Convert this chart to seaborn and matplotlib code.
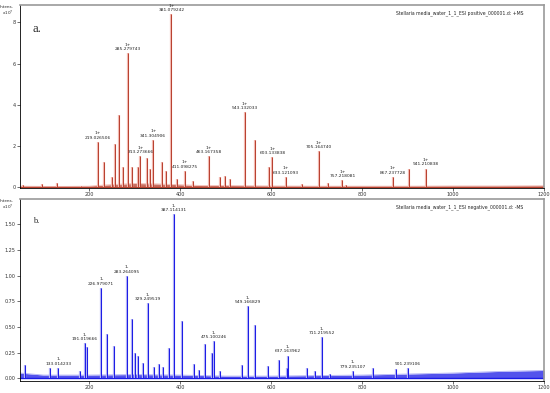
import matplotlib
matplotlib.use('Agg')
import matplotlib.pyplot as plt
import seaborn as sns
import pandas as pd

# --- a. положительный режим (x10^7) ---
pos_mz = [55, 97, 130, 182, 219.03, 233, 250, 257, 266, 275, 285.28, 294, 308, 313.27,
          327, 334, 341.30, 360, 369, 381.08, 393, 411.10, 428, 463.17, 488, 499, 510,
          543.13, 565, 596, 603.13, 633.12, 668, 705.16, 725, 757.22, 765, 867.24, 903, 941.21]
pos_int = [0.10, 0.15, 0.20, 0.05, 2.2, 1.2, 0.5, 2.1, 3.5, 1.0, 6.5, 1.0, 1.0, 1.5,
           1.4, 0.9, 2.3, 1.2, 0.8, 8.4, 0.4, 0.8, 0.3, 1.5, 0.5, 0.55, 0.4,
           3.65, 2.3, 1.0, 1.45, 0.5, 0.15, 1.75, 0.2, 0.35, 0.1, 0.5, 0.9, 0.9]
pos_labels = {219.03: '219.026506', 285.28: '285.279743', 381.08: '381.079242',
              313.27: '313.273666', 341.30: '341.304906', 411.10: '411.098275',
              463.17: '463.167358', 543.13: '543.132033', 603.13: '603.133838',
              633.12: '633.121093', 705.16: '705.164740', 757.22: '757.218081',
              867.24: '867.237728', 941.21: '941.210838'}
pos_noise_mz = [48, 100, 150, 200, 230, 260, 300, 350, 400, 450, 500, 550, 600, 700,
                800, 900, 1000, 1100, 1200]
pos_noise = [0.05, 0.04, 0.04, 0.05, 0.10, 0.14, 0.18, 0.16, 0.12, 0.08, 0.08, 0.07, 0.06,
             0.05, 0.05, 0.05, 0.06, 0.06, 0.07]

# --- b. отрицательный режим ---
neg_mz = [59, 114, 133.01, 180, 191.02, 196, 226.98, 240, 255, 283.26, 294, 301, 308,
          318, 329.25, 343, 353, 363, 376, 387.11, 404, 431, 442, 455, 470, 475.10,
          488, 536, 549.17, 565, 593, 618, 635, 637.16, 679, 697, 711.22, 730,
          779.24, 824, 874, 901.24]
neg_int = [0.13, 0.10, 0.10, 0.07, 0.34, 0.30, 0.88, 0.43, 0.31, 1.0, 0.58, 0.25, 0.22,
           0.15, 0.73, 0.11, 0.14, 0.11, 0.29, 1.60, 0.56, 0.14, 0.08, 0.33, 0.25, 0.36,
           0.07, 0.13, 0.70, 0.52, 0.12, 0.18, 0.10, 0.22, 0.10, 0.07, 0.40, 0.04,
           0.07, 0.10, 0.09, 0.10]
neg_labels = {133.01: '133.014233', 191.02: '191.019666', 226.98: '226.979071',
              283.26: '283.264095', 329.25: '329.249519', 387.11: '387.114131',
              475.10: '475.100246', 549.17: '549.166829', 637.16: '637.163962',
              711.22: '711.219552', 779.24: '779.235107', 901.24: '901.239106'}
neg_charge = {901.24: ''}
neg_noise_mz = [48, 100, 200, 300, 400, 500, 600, 700, 800, 900, 1000, 1100, 1200]
neg_noise = [0.05, 0.03, 0.03, 0.035, 0.03, 0.02, 0.02, 0.025, 0.03, 0.04, 0.05, 0.065, 0.075]

x_ticks = [200, 400, 600, 800, 1000, 1200]

sns.set_theme(style='ticks')
plt.rcParams['font.family'] = ['DejaVu Sans']

fig = plt.figure(figsize=(5.5, 3.93), dpi=100)
ax1 = fig.add_axes([0.036, 0.521, 0.953, 0.466])
ax2 = fig.add_axes([0.036, 0.030, 0.953, 0.464])

letter_size = {'a.': 9, 'b.': 6}


def draw_panel(ax, mz, inten, labels, noise_mz, noise, color, light, charge, ylim, yticks,
               yfmt, letter, title, charges_override=None):
    df = pd.DataFrame({'mz': mz, 'int': inten})
    nf = pd.DataFrame({'mz': noise_mz, 'lvl': noise})
    ax.fill_between(nf['mz'], 0, nf['lvl'], color=color, alpha=0.75, lw=0)
    sns.lineplot(data=nf, x='mz', y='lvl', ax=ax, color=light, lw=0.6)
    ax.axhline(0, color=color, lw=1.0)
    ax.vlines(df['mz'], 0, df['int'], color=light, lw=1.6)
    ax.vlines(df['mz'], 0, df['int'], color=color, lw=0.7)
    span = ylim[1] - ylim[0]
    for m, txt in labels.items():
        h = df.loc[df['mz'] == m, 'int'].iloc[0]
        ch = charge
        if charges_override and m in charges_override:
            ch = charges_override[m]
        ax.text(m, h + span * 0.012, f'{ch}\n{txt}' if ch else txt, ha='center',
                va='bottom', fontsize=3.2, linespacing=1.1, color='#222222')
    ax.set_xlim(48, 1200)
    ax.set_ylim(*ylim)
    ax.set_xticks(x_ticks)
    ax.set_xticklabels([str(t) for t in x_ticks])
    ax.set_yticks(yticks)
    ax.set_yticklabels([yfmt.format(t) for t in yticks])
    ax.tick_params(labelsize=3.5, length=2, width=0.5, pad=1, colors='#333333')
    ax.set_xlabel('')
    ax.set_ylabel('')
    for s in ['left', 'bottom']:
        ax.spines[s].set_color('black')
        ax.spines[s].set_linewidth(0.6)
    for s in ['top', 'right']:
        ax.spines[s].set_visible(True)
        ax.spines[s].set_color('#9a9a9a')
        ax.spines[s].set_linewidth(1.2)
    ax.text(-0.012, 1.0, 'Intens.\nx10$^7$', transform=ax.transAxes, ha='right', va='top',
            fontsize=3, linespacing=1.0)
    ax.text(0.961, 0.972, title, transform=ax.transAxes, ha='right', va='top', fontsize=3.3)
    ax.text(0.025, 0.9, letter, transform=ax.transAxes, ha='left', va='top',
            fontsize=letter_size[letter], family='Liberation Serif')


draw_panel(ax1, pos_mz, pos_int, pos_labels, pos_noise_mz, pos_noise, '#b8402e', '#f2b8b0',
           '1+', (-0.05, 8.84), [0, 2, 4, 6, 8], '{:d}', 'a.',
           'Stellaria media_water_1_1_ESI positive_000001.d: +MS')
draw_panel(ax2, neg_mz, neg_int, neg_labels, neg_noise_mz, neg_noise, '#1a1ae6', '#b0b0f5',
           '1-', (-0.03, 1.75), [0, 0.25, 0.5, 0.75, 1.0, 1.25, 1.5], '{:.2f}', 'b.',
           'Stellaria media_water_1_1_ESI negative_000001.d: -MS', neg_charge)

fig.savefig('out.png', dpi=100)
